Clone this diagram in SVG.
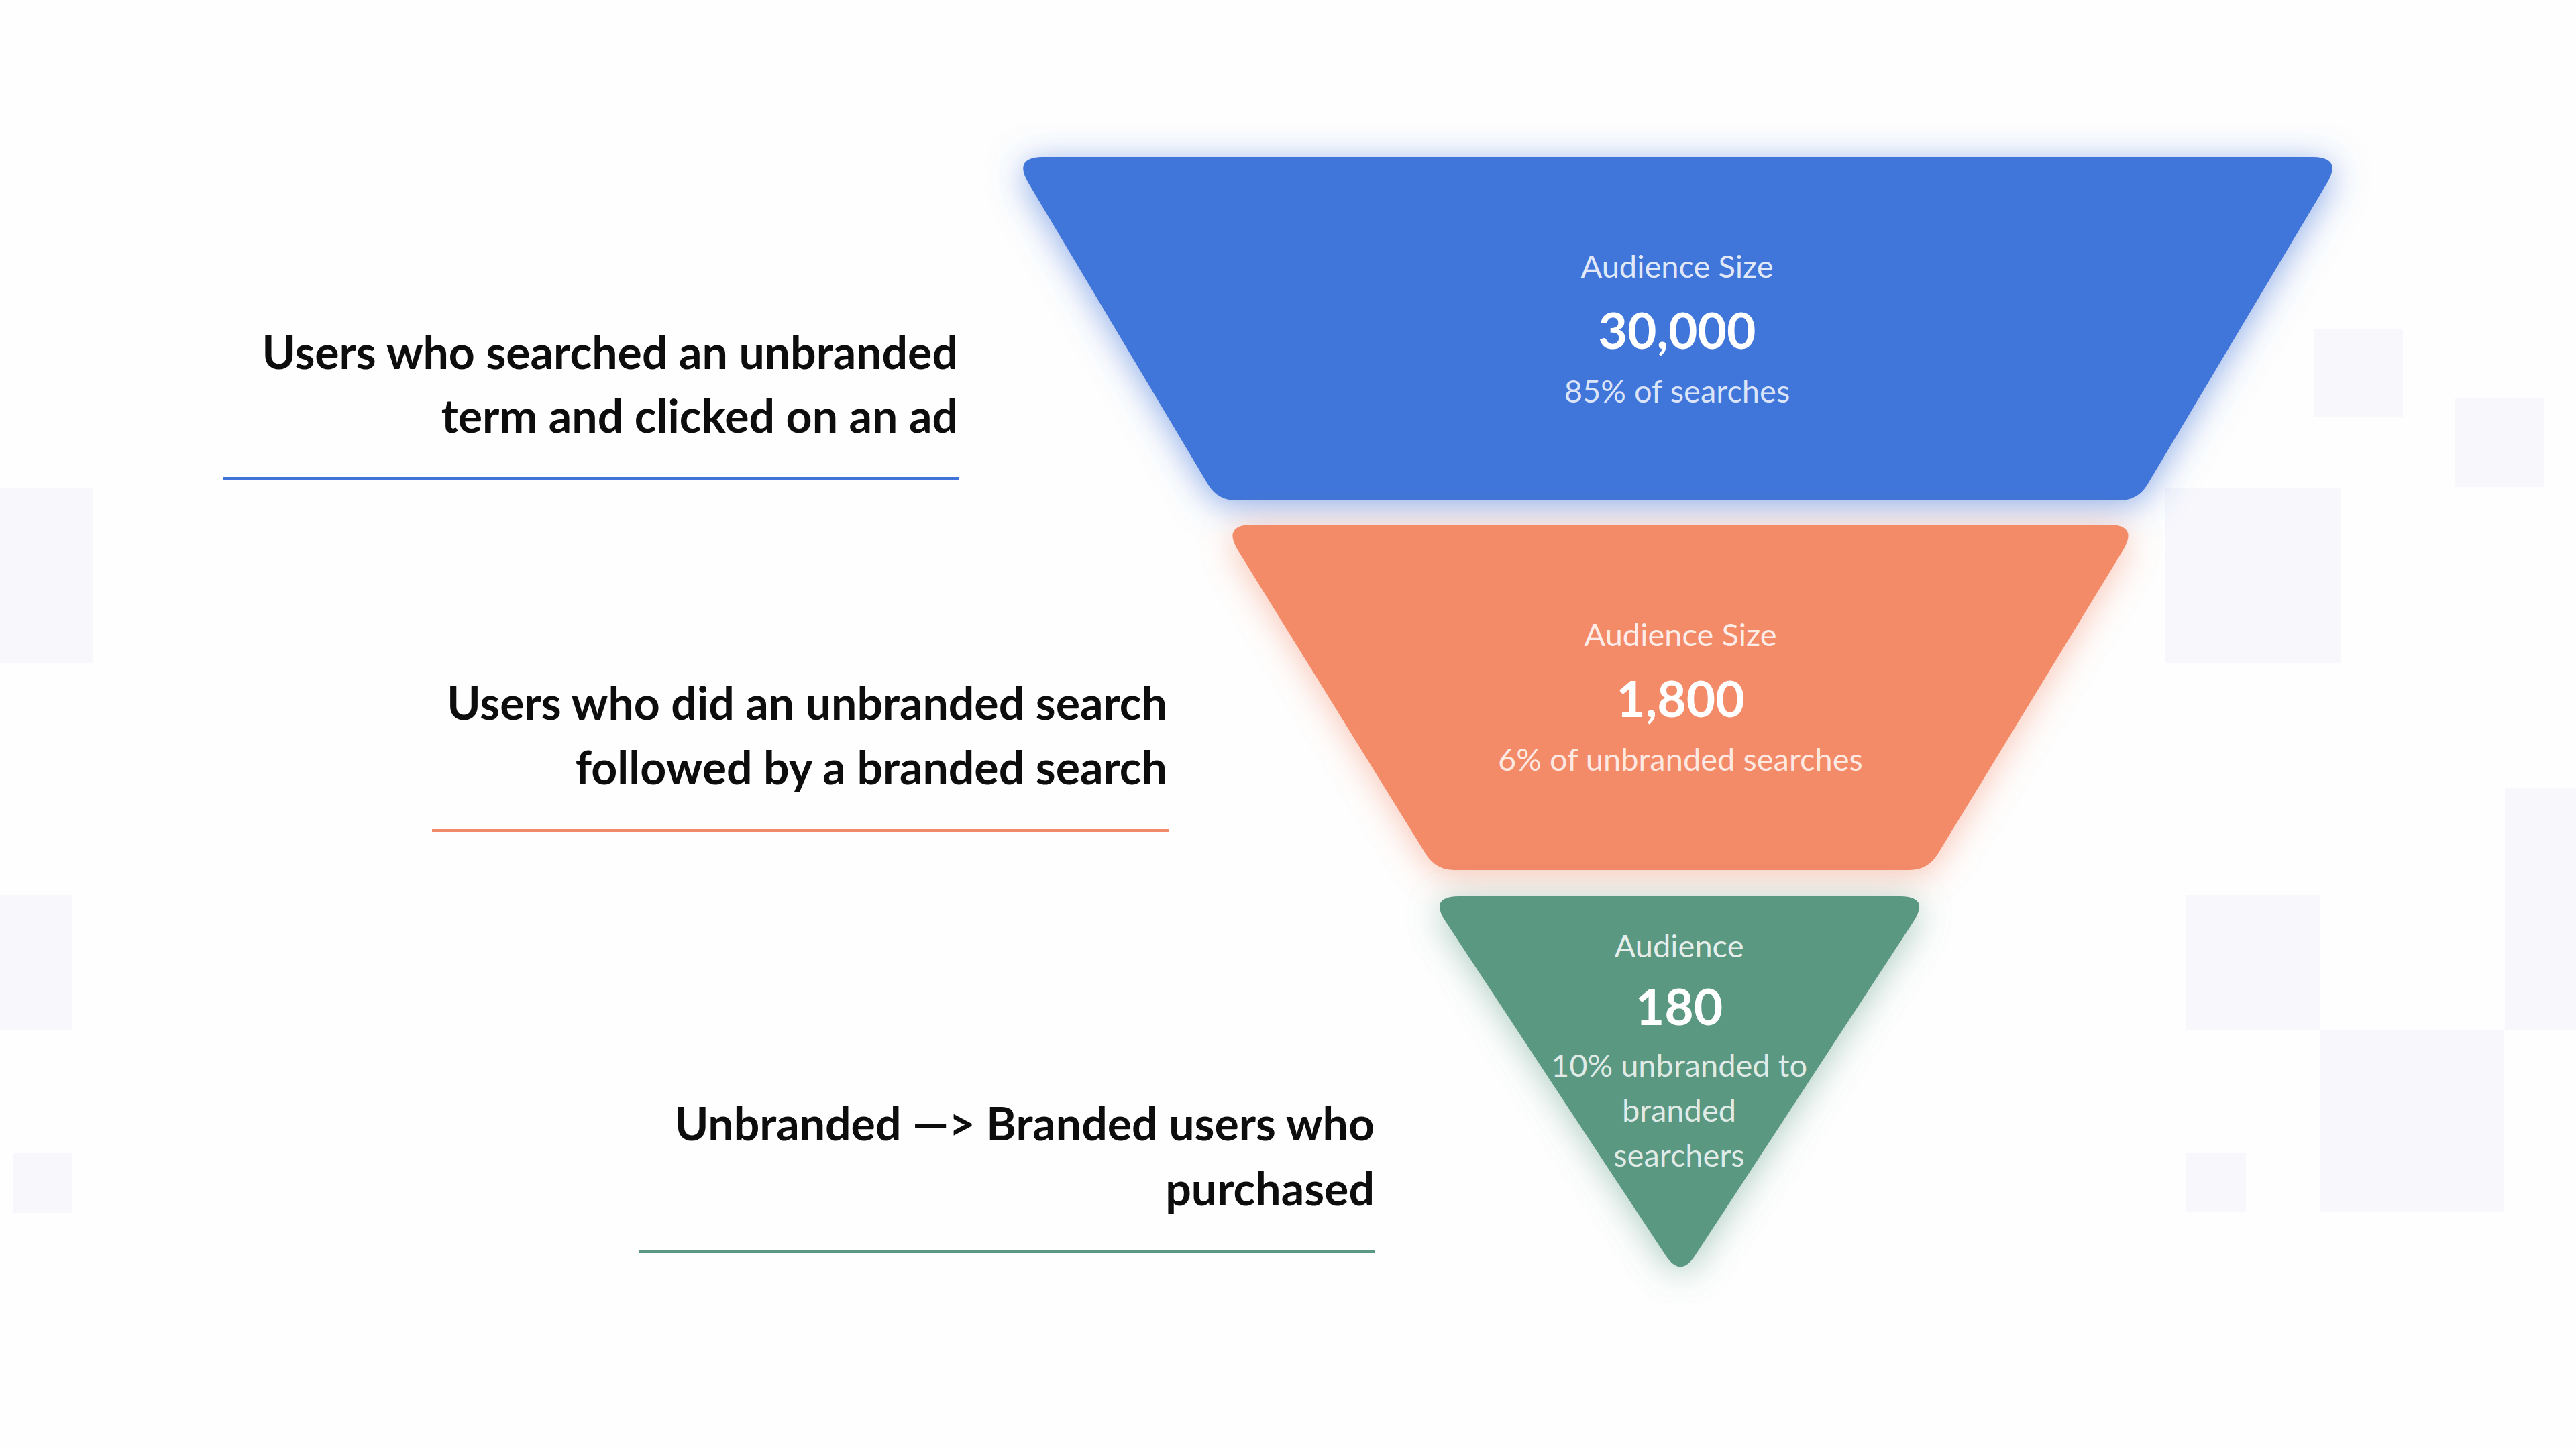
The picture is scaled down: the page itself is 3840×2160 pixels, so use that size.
<svg xmlns="http://www.w3.org/2000/svg" width="3840" height="2160" viewBox="0 0 3840 2160">
<style>
.bg{fill:#f7f7fc}
.lbl{font-family:Lato,"Open Sans","Liberation Sans",sans-serif;font-weight:700;font-size:68px;fill:#0d0d0d;text-anchor:end}
.t{font-family:Lato,"Open Sans","Liberation Sans",sans-serif;text-anchor:middle;fill:#ffffff}
.cap{font-size:47px;fill-opacity:0.86}
.num{font-size:75px;font-weight:700}
.sub{font-size:47px;fill-opacity:0.82}
.ul{stroke-width:4}
</style>
<defs>
<filter id="glowB" x="-20%" y="-30%" width="140%" height="160%">
<feGaussianBlur in="SourceAlpha" stdDeviation="26"/>
<feOffset dy="8" result="b"/>
<feFlood flood-color="#4174d9" flood-opacity="0.6"/>
<feComposite in2="b" operator="in"/>
<feMerge><feMergeNode/><feMergeNode in="SourceGraphic"/></feMerge>
</filter>
<filter id="glowO" x="-20%" y="-30%" width="140%" height="160%">
<feGaussianBlur in="SourceAlpha" stdDeviation="26"/>
<feOffset dy="8" result="b"/>
<feFlood flood-color="#f38a68" flood-opacity="0.5"/>
<feComposite in2="b" operator="in"/>
<feMerge><feMergeNode/><feMergeNode in="SourceGraphic"/></feMerge>
</filter>
<filter id="glowG" x="-30%" y="-30%" width="160%" height="160%">
<feGaussianBlur in="SourceAlpha" stdDeviation="26"/>
<feOffset dy="8" result="b"/>
<feFlood flood-color="#5a9882" flood-opacity="0.5"/>
<feComposite in2="b" operator="in"/>
<feMerge><feMergeNode/><feMergeNode in="SourceGraphic"/></feMerge>
</filter>
</defs>
<rect x="0" y="0" width="3840" height="2160" fill="#fefefe"/>
<g id="background">
<rect class="bg" x="3450" y="490" width="132" height="132"/>
<rect class="bg" x="3659" y="593" width="133" height="133"/>
<rect class="bg" x="3228" y="727" width="262" height="261"/>
<rect class="bg" x="3259" y="1334" width="200" height="201"/>
<rect class="bg" x="3734" y="1174" width="106" height="362"/>
<rect class="bg" x="3459" y="1535" width="273" height="272"/>
<rect class="bg" x="3259" y="1719" width="89" height="88"/>
<rect class="bg" x="0" y="727" width="138" height="262"/>
<rect class="bg" x="0" y="1334" width="107" height="201"/>
<rect class="bg" x="19" y="1719" width="89" height="89"/>
</g>
<g id="connectors">
<line class="ul" x1="332" y1="713" x2="1430" y2="713" stroke="#4174d9"/>
<line class="ul" x1="644" y1="1238" x2="1742" y2="1238" stroke="#f08a6a"/>
<line class="ul" x1="952" y1="1866" x2="2050" y2="1866" stroke="#5a9882"/>
</g>
<g id="stage1">
<path filter="url(#glowB)" fill="#4174d9" d="M1555,234 L3447,234 Q3492,234 3469,272.7 L3201.3,721.9 Q3187,746 3159,746 L1843,746 Q1815,746 1800.7,721.9 L1533,272.7 Q1510,234 1555,234 Z"/>
<text class="t cap" x="2500" y="414">Audience Size</text>
<text class="t num" x="2500" y="520">30,000</text>
<text class="t sub" x="2500" y="600">85% of searches</text>
</g>
<g id="stage2">
<path filter="url(#glowO)" fill="#f38a68" d="M1867,782 L3143,782 Q3188,782 3164.6,820.4 L2888.6,1273.1 Q2874,1297 2846,1297 L2168,1297 Q2140,1297 2125.4,1273.1 L1845.4,820.4 Q1822,782 1867,782 Z"/>
<text class="t cap" x="2505" y="963">Audience Size</text>
<text class="t num" x="2505" y="1069">1,800</text>
<text class="t sub" x="2505" y="1149">6% of unbranded searches</text>
</g>
<g id="stage3">
<path filter="url(#glowG)" fill="#5a9882" d="M2175,1336 L2832,1336 Q2877,1336 2852.4,1373.7 L2526.9,1871.5 Q2505,1905 2483,1871.6 L2154.8,1373.6 Q2130,1336 2175,1336 Z"/>
<text class="t cap" x="2503" y="1427">Audience</text>
<text class="t num" x="2503" y="1528">180</text>
<text class="t sub" x="2503" y="1605">10% unbranded to</text>
<text class="t sub" x="2503" y="1672">branded</text>
<text class="t sub" x="2503" y="1739">searchers</text>
</g>
<g id="label1">
<text class="lbl" x="1428" y="550">Users who searched an unbranded</text>
<text class="lbl" x="1428" y="645">term and clicked on an ad</text>
</g>
<g id="label2">
<text class="lbl" x="1740" y="1073">Users who did an unbranded search</text>
<text class="lbl" x="1740" y="1169">followed by a branded search</text>
</g>
<g id="label3">
<text class="lbl" x="2049" y="1700">Unbranded —&gt; Branded users who</text>
<text class="lbl" x="2049" y="1797">purchased</text>
</g>
</svg>
